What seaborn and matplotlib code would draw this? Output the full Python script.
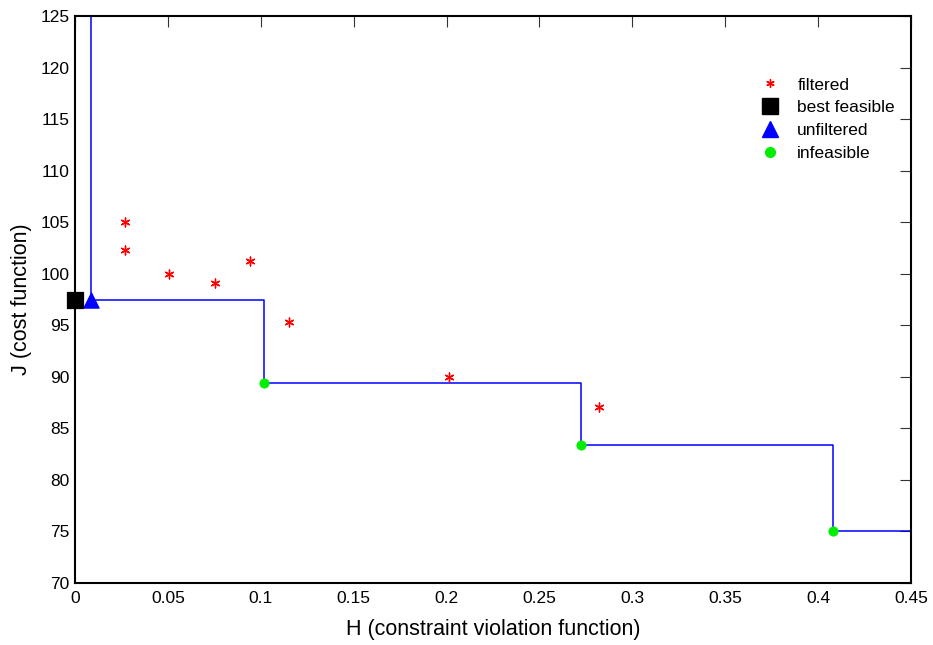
import matplotlib
matplotlib.use("Agg")
import matplotlib.pyplot as plt
import seaborn as sns
import pandas as pd
from matplotlib.lines import Line2D

sns.set_style("white")
plt.rcParams['font.family'] = ['Liberation Sans', 'DejaVu Sans']
plt.rcParams['text.color'] = 'black'
plt.rcParams['axes.labelcolor'] = 'black'

# Data
filtered_H = [0.027, 0.027, 0.0505, 0.0755, 0.094, 0.115, 0.2015, 0.282]
filtered_J = [105.0, 102.3, 100.0, 99.1, 101.2, 95.3, 90.0, 87.1]
best_H = [0.0]
best_J = [97.5]
unfilt_H = [0.0086]
unfilt_J = [97.5]
infeas_H = [0.102, 0.2725, 0.408]
infeas_J = [89.4, 83.4, 75.0]
step_H = [0.0086, 0.0086, 0.102, 0.2725, 0.408, 0.45]
step_J = [130.0, 97.5, 89.4, 83.4, 75.0, 75.0]

fig = plt.figure(figsize=(9.33, 6.45), dpi=100)
ax = fig.add_axes([0.0804, 0.0961, 0.8960, 0.8791])

step_df = pd.DataFrame({"H": step_H, "J": step_J})
sns.lineplot(data=step_df, x="H", y="J", ax=ax, estimator=None, sort=False,
             drawstyle="steps-post", color="#0000ff", linewidth=1.1, zorder=2)

star = (6, 2, 0)
sns.scatterplot(x=filtered_H, y=filtered_J, ax=ax, marker=star, s=40,
                color="#ff0000", linewidth=1.0, edgecolor="#ff0000", zorder=3)
sns.scatterplot(x=best_H, y=best_J, ax=ax, marker="s", s=130,
                color="black", edgecolor="black", zorder=4, clip_on=False)
sns.scatterplot(x=unfilt_H, y=unfilt_J, ax=ax, marker="^", s=120,
                color="#0000ff", edgecolor="#0000ff", zorder=4)
sns.scatterplot(x=infeas_H, y=infeas_J, ax=ax, marker="o", s=45,
                color="#00ee00", edgecolor="#00ee00", zorder=4)

ax.set_xlim(0, 0.45)
ax.set_ylim(70, 125)
ax.set_xticks([0, 0.05, 0.1, 0.15, 0.2, 0.25, 0.3, 0.35, 0.4, 0.45])
ax.set_xticklabels(["0", "0.05", "0.1", "0.15", "0.2", "0.25", "0.3", "0.35", "0.4", "0.45"])
ax.set_yticks(list(range(70, 126, 5)))
ax.tick_params(direction="in", length=8, width=0.8, top=True, right=True,
               labelsize=12.5, color="#333333", labelcolor="black")
ax.tick_params(axis="x", pad=6)
ax.tick_params(axis="y", pad=4)
for sp in ax.spines.values():
    sp.set_visible(True)
    sp.set_color("black")
    sp.set_linewidth(1.5)

ax.set_xlabel("H (constraint violation function)", fontsize=15.5, labelpad=9)
ax.set_ylabel("J (cost function)", fontsize=15.5, labelpad=6)

handles = [
    Line2D([], [], linestyle="none", marker=star, color="#ff0000", markersize=6, markeredgewidth=1.0),
    Line2D([], [], linestyle="none", marker="s", color="black", markersize=11),
    Line2D([], [], linestyle="none", marker="^", color="#0000ff", markersize=11),
    Line2D([], [], linestyle="none", marker="o", color="#00ee00", markersize=7),
]
labels = ["filtered", "best feasible", "unfiltered", "infeasible"]
ax.legend(handles, labels, loc="upper left", bbox_to_anchor=(0.808, 0.904),
          frameon=False, fontsize=12.5, handletextpad=0.8, labelspacing=0.45,
          handlelength=1.5, borderaxespad=0)

fig.savefig("out.png", dpi=100)
